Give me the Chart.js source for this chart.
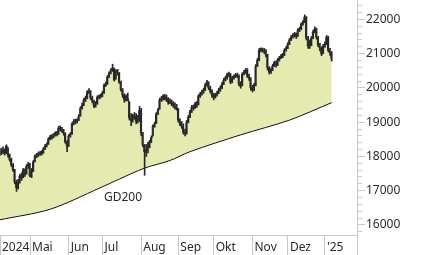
<!DOCTYPE html>
<html>
<head>
<meta charset="utf-8">
<script src="https://cdn.jsdelivr.net/npm/chart.js@4.4.1/dist/chart.umd.min.js"></script>
<style>
  html, body { margin: 0; padding: 0; background: #fff; }
  canvas { display: block; }
</style>
</head>
<body>
<canvas id="chart" width="426" height="255"></canvas>
<script>
// x = weekday number counted from Mon 2024-04-01
const firstDay = 4;

const closes = [
  18130,18130,18190,18100,18300,18040,17900,17750,17600,17250,
  17080,17250,17430,17370,17600,17490,17720,17780,17430,17550,
  17840,18010,18040,18070,18100,18100,18220,18300,18360,18510,
  18570,18570,18630,18680,18650,18830,18800,18740,18680,18420,
  18300,18600,18650,18950,19030,19000,19060,19180,19410,19500,
  19650,19700,19880,19910,19700,19620,19470,19530,19730,19760,
  19760,19850,20080,20110,20320,20430,20520,20580,20230,20490,
  20430,20170,19940,19790,19650,19760,19680,19120,19060,19120,
  19180,19030,19060,19350,18680,18330,18130,18190,18300,18420,
  18540,18890,18950,19240,19350,19650,19680,19760,19730,19680,
  19590,19620,19560,19500,19440,19410,19060,18950,18890,18710,
  18680,19000,19150,19300,19440,19410,19530,19500,19760,19820,
  19880,19940,20080,20170,20000,19910,19790,19730,19790,19850,
  19940,20000,20110,20230,20290,20380,20400,20170,20290,20320,
  20380,20350,20110,20050,20400,20460,20520,20350,20290,20000,
  19940,20080,20640,20810,21100,21130,21100,21080,20960,20580,
  20460,20520,20640,20730,20670,20810,20870,20930,20960,21100,
  21160,21280,21400,21480,21540,21570,21510,21690,21720,21860,
  21920,22070,21450,21220,21250,21450,21630,21720,21480,21250,
  21160,20990,21220,21280,21480,21100,21020,20840
];

const lows = [
  18020,18050,18080,18040,18080,17980,17860,17700,17560,17200,
  16980,17050,17220,17300,17380,17420,17480,17650,17400,17380,
  17560,17840,17960,18000,18030,18040,18090,18200,18280,18350,
  18480,18500,18540,18590,18600,18640,18740,18700,18620,18380,
  18140,18290,18560,18640,18920,18950,18980,19040,19170,19380,
  19480,19600,19680,19830,19660,19560,19420,19440,19520,19680,
  19700,19740,19840,20040,20100,20300,20410,20480,20200,20250,
  20370,20130,19900,19720,19580,19620,19620,19060,18900,19000,
  19080,18950,18980,19020,18600,18280,17450,18000,18100,18250,
  18400,18600,18850,18960,19220,19380,19600,19640,19650,19600,
  19520,19540,19480,19430,19380,19350,19000,18900,18820,18650,
  18600,18650,18980,19130,19280,19350,19400,19430,19500,19720,
  19790,19840,19920,20050,19950,19850,19720,19650,19700,19760,
  19830,19900,19980,20090,20200,20250,20330,20120,20150,20250,
  20300,20300,20060,19990,20060,20380,20420,20300,20220,19930,
  19880,19920,20060,20620,20790,21050,21040,21000,20900,20520,
  20400,20420,20500,20620,20600,20650,20780,20850,20880,20940,
  21070,21140,21260,21380,21450,21480,21440,21500,21640,21700,
  21830,21900,21400,21150,21150,21230,21430,21600,21420,21200,
  21080,20940,21000,21180,21260,21050,20950,20780
];

const highs = [
  18250,18230,18280,18220,18340,18260,18070,17950,17790,17620,
  17310,17330,17480,17520,17650,17640,17760,17830,17800,17650,
  17880,18050,18090,18130,18150,18170,18260,18350,18400,18550,
  18620,18640,18670,18720,18730,18880,18890,18850,18790,18690,
  18460,18640,18700,18990,19080,19090,19100,19220,19450,19560,
  19700,19760,19920,19980,19920,19760,19640,19600,19770,19800,
  19820,19900,20120,20170,20360,20470,20560,20690,20580,20530,
  20540,20450,20200,19980,19830,19800,19850,19600,19250,19230,
  19280,19250,19200,19460,19400,18700,18350,18350,18420,18470,
  18600,18920,19000,19280,19400,19700,19750,19800,19810,19790,
  19720,19680,19650,19600,19560,19520,19400,19100,19020,18950,
  18800,19050,19200,19350,19490,19500,19580,19600,19800,19870,
  19930,19990,20130,20220,20180,20050,19950,19850,19840,19900,
  19990,20060,20160,20280,20340,20430,20460,20420,20340,20380,
  20420,20430,20380,20180,20440,20510,20570,20560,20400,20300,
  20080,20130,20680,20860,21150,21170,21160,21150,21120,20980,
  20620,20580,20690,20780,20780,20860,20920,20980,21010,21140,
  21210,21320,21440,21530,21580,21620,21600,21730,21770,21900,
  21970,22130,22080,21500,21400,21500,21680,21780,21740,21500,
  21300,21200,21270,21340,21530,21500,21150,21060
];

// 200-day average, read at a few points
const gdDays   = [4, 34, 63, 75, 90, 105, 117, 147, 176, 201];
const gdValues = [16150, 16460, 17070, 17340, 17660, 17880, 18140, 18630, 19060, 19570];
const gdLabelPos = [65.9, 16790];

// month separators (weekday numbers) and their labels
const monthTicks  = [4.2, 22, 45, 65, 88, 110, 131, 154, 175, 197, 216];
const monthLabels = ['2024', 'Mai', 'Jun', 'Jul', 'Aug', 'Sep', 'Okt', 'Nov', 'Dez', "'25", ''];

const yMin = 15708, yMax = 22563;

const axisGray = '#c6c6c6';
const ink = '#262626';
const fillColor = 'rgb(229,234,177)';

Chart.defaults.font.family = '"Noto Sans", sans-serif';
Chart.defaults.font.size = 12;
Chart.defaults.color = '#2a2a2a';

const priceLine = closes.map((v, i) => ({ x: firstDay + i, y: v }));
const ranges = closes.map((v, i) => ({ x: firstDay + i, y: [lows[i], highs[i]] }));
const gdLine = gdDays.map((d, i) => ({ x: d, y: gdValues[i] }));

const gdLabel = {
  id: 'gdLabel',
  afterDatasetsDraw(chart) {
    const { ctx, scales: { x, y } } = chart;
    ctx.save();
    ctx.font = '12px "Noto Sans"';
    ctx.fillStyle = '#2a2a2a';
    ctx.textBaseline = 'middle';
    ctx.fillText('GD200', x.getPixelForValue(gdLabelPos[0]), y.getPixelForValue(gdLabelPos[1]));
    ctx.restore();
  }
};

new Chart(document.getElementById('chart'), {
  type: 'line',
  data: {
    datasets: [
      {
        type: 'bar',
        data: ranges,
        backgroundColor: ink,
        barThickness: 1,
        order: 0
      },
      {
        data: priceLine,
        borderColor: ink,
        borderWidth: 1,
        pointRadius: 0,
        stepped: 'middle',
        fill: { target: 2, above: fillColor, below: fillColor },
        order: 1
      },
      {
        data: gdLine,
        borderColor: '#111',
        borderWidth: 1,
        pointRadius: 0,
        tension: 0.3,
        fill: false,
        order: 0
      }
    ]
  },
  options: {
    responsive: false,
    animation: false,
    layout: { padding: 0 },
    plugins: { legend: { display: false }, tooltip: { enabled: false } },
    scales: {
      x: {
        type: 'linear',
        min: 4.2,
        max: 216,
        offset: false,
        border: { color: axisGray },
        grid: { drawOnChartArea: false, offset: false, tickLength: 20, tickColor: axisGray },
        afterBuildTicks: s => { s.ticks = monthTicks.map(v => ({ value: v })); },
        ticks: {
          autoSkip: false,
          maxRotation: 0,
          align: 'start',
          labelOffset: 2,
          padding: -15,
          callback: (v, i) => monthLabels[i]
        },
        afterFit: s => {
          s.height = 20;
          s.paddingLeft = 0; s.paddingRight = 0;
        }
      },
      y: {
        type: 'linear',
        position: 'right',
        min: yMin,
        max: yMax,
        border: { color: axisGray },
        grid: {
          drawOnChartArea: false,
          tickLength: 8,
          tickColor: axisGray,
          tickBorderDash: ctx => (ctx.tick && ctx.tick.value % 1000 === 0) ? [] : [4, 20]
        },
        afterBuildTicks: s => {
          const t = [];
          for (let v = 15800; v <= 22400; v += 200) t.push({ value: v });
          s.ticks = t;
        },
        ticks: {
          autoSkip: false,
          padding: 1,
          callback: v => (v % 1000 === 0 ? String(v) : '')
        },
        afterFit: s => {
          s.width = 69;
          s.paddingTop = 0; s.paddingBottom = 0;
        }
      }
    }
  },
  plugins: [gdLabel]
});
</script>
</body>
</html>
